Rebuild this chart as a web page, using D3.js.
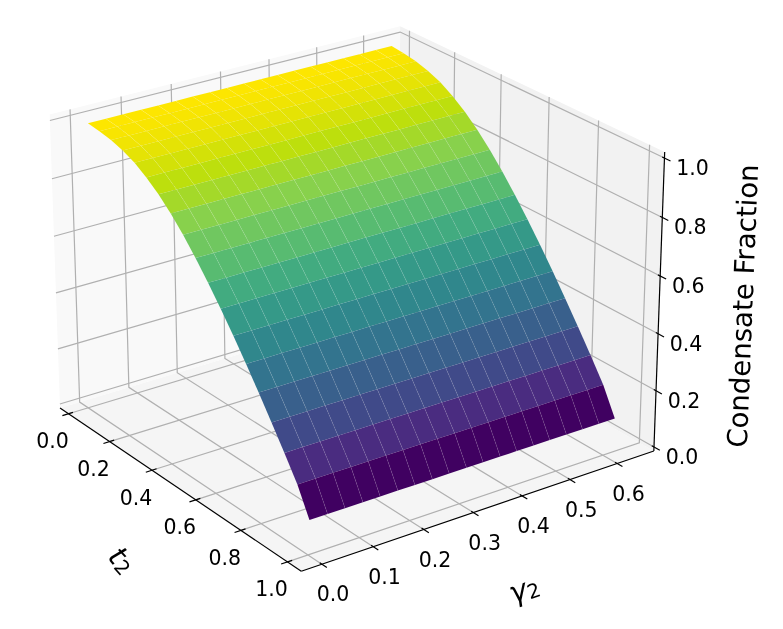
<!DOCTYPE html>
<html>
<head>
<meta charset="utf-8">
<script src="https://cdn.jsdelivr.net/npm/d3@7"></script>
<style>
  body { margin: 0; background: white; }
  svg { display: block; filter: blur(0.35px); }
  text { font-family: "DejaVu Sans", sans-serif; fill: black; }
</style>
</head>
<body>
<script>
// Values
const tValues = [0.03, 0.084, 0.138, 0.192, 0.246, 0.299, 0.353, 0.407, 0.461, 0.515, 0.569, 0.623, 0.677, 0.731, 0.784, 0.838, 0.892, 0.946, 0.996];
const gammaValues = [0.005, 0.04, 0.074, 0.109, 0.143, 0.178, 0.212, 0.247, 0.281, 0.316, 0.35, 0.385, 0.419, 0.454, 0.488, 0.523, 0.557, 0.592, 0.626];
const condensateFraction = [1.0, 0.995, 0.987, 0.974, 0.955, 0.928, 0.894, 0.853, 0.805, 0.751, 0.692, 0.63, 0.564, 0.495, 0.424, 0.35, 0.274, 0.195, 0.1];
const tTicks = [0.0, 0.2, 0.4, 0.6, 0.8, 1.0];
const gammaTicks = [0.0, 0.1, 0.2, 0.3, 0.4, 0.5, 0.6];
const zTicks = [0.0, 0.2, 0.4, 0.6, 0.8, 1.0];
const tLimits = [-0.042, 1.058];
const gammaLimits = [-0.0395, 0.679];
const zLimits = [-0.0145, 1.0205];

const w = 783;
const h = 629;
const gridColor = "#b0b0b0";

// Same camera as a matplotlib 3d axes
const elev = 24.14 * Math.PI / 180;
const azim = -35.73 * Math.PI / 180;
const dist = 10;
const eye = [Math.cos(elev) * Math.cos(azim), Math.cos(elev) * Math.sin(azim), Math.sin(elev)];
const right = [-Math.sin(azim), Math.cos(azim), 0];
const up = [-Math.sin(elev) * Math.cos(azim), -Math.sin(elev) * Math.sin(azim), Math.cos(elev)];
const dot = (a, b) => a[0] * b[0] + a[1] * b[1] + a[2] * b[2];

const tScale = d3.scaleLinear().domain(tLimits).range([-0.5715, 0.5715]);
const gammaScale = d3.scaleLinear().domain(gammaLimits).range([-0.5715, 0.5715]);
const zScale = d3.scaleLinear().domain(zLimits).range([-0.4285, 0.4285]);
const screenX = d3.scaleLinear().domain([0, 1]).range([353.46, 353.46 + 3787]);
const screenY = d3.scaleLinear().domain([0, 1]).range([283.72, 283.72 - 3787]);

function project(t, gamma, z) {
  const p = [tScale(t), gammaScale(gamma), zScale(z)];
  const f = 1 / (dist - dot(p, eye));
  return [screenX(dot(p, right) * f), screenY(dot(p, up) * f)];
}
function depth(t, gamma, z) {
  return dot([tScale(t), gammaScale(gamma), zScale(z)], eye);
}

const [t0, t1] = tLimits;
const [g0, g1] = gammaLimits;
const [z0, z1] = zLimits;

const svg = d3.select("body").append("svg").attr("width", w).attr("height", h);
const line = d3.line();

// Panes
const panes = [
  { fill: "#f5f5f5", pts: [[t0, g0, z0], [t1, g0, z0], [t1, g1, z0], [t0, g1, z0]] },
  { fill: "#f9f9f9", pts: [[t0, g0, z0], [t0, g1, z0], [t0, g1, z1], [t0, g0, z1]] },
  { fill: "#f2f2f2", pts: [[t0, g1, z0], [t1, g1, z0], [t1, g1, z1], [t0, g1, z1]] }
];
svg.selectAll(".pane")
  .data(panes)
  .enter()
  .append("path")
  .attr("class", "pane")
  .attr("fill", d => d.fill)
  .attr("d", d => line(d.pts.map(p => project(...p))) + "Z");

// Grid lines, each one runs over two panes
const gridLines = [];
tTicks.forEach(t => gridLines.push([[t, g0, z0], [t, g1, z0], [t, g1, z1]]));
gammaTicks.forEach(g => gridLines.push([[t1, g, z0], [t0, g, z0], [t0, g, z1]]));
zTicks.forEach(z => gridLines.push([[t1, g1, z], [t0, g1, z], [t0, g0, z]]));
svg.selectAll(".grid")
  .data(gridLines)
  .enter()
  .append("path")
  .attr("class", "grid")
  .attr("fill", "none")
  .attr("stroke", gridColor)
  .attr("stroke-width", 1.2)
  .attr("d", d => line(d.map(p => project(...p))));

// Axis lines and ticks
const axisLines = [
  [[t0, g0, z0], [t1, g0, z0]],
  [[t1, g0, z0], [t1, g1, z0]],
  [[t1, g1, z0], [t1, g1, z1]]
];
const gammaSpan = g1 - g0;
const tSpan = t1 - t0;
tTicks.forEach(t => axisLines.push([[t, g0 - 0.017 * gammaSpan, z0], [t, g0 + 0.0125 * gammaSpan, z0]]));
gammaTicks.forEach(g => axisLines.push([[t1 + 0.019 * tSpan, g, z0], [t1 - 0.008 * tSpan, g, z0]]));
zTicks.forEach(z => axisLines.push([[t1 + 0.021 * tSpan, g1, z], [t1 - 0.008 * tSpan, g1, z]]));
svg.selectAll(".axis-line")
  .data(axisLines)
  .enter()
  .append("path")
  .attr("class", "axis-line")
  .attr("fill", "none")
  .attr("stroke", "black")
  .attr("stroke-width", 1.2)
  .attr("d", d => line(d.map(p => project(...p))));

// Surface, facets coloured by their mean height and painted back to front
const zMin = d3.min(condensateFraction);
const zMax = d3.max(condensateFraction);
const norm = d3.scaleLinear().domain([zMin, zMax]).range([0, 1]);
// viridis as it looks in this picture: a bit duller in the middle, purer at the yellow end
const colorScale = d3.scaleLinear()
  .domain([0, 0.05, 0.15, 0.25, 0.4, 0.5, 0.6, 0.7, 0.8, 0.9, 1])
  .range(["#3c0058", "#400060", "#4a2c80", "#3e4f8a", "#33748e", "#2f8c8c", "#3aa585", "#5bbd6f", "#82cf53", "#bcdf0d", "#ffe600"]);
const cells = [];
for (let i = 0; i < tValues.length - 1; i++) {
  for (let j = 0; j < gammaValues.length - 1; j++) {
    const za = condensateFraction[i];
    const zb = condensateFraction[i + 1];
    cells.push({
      pts: [
        [tValues[i], gammaValues[j], za],
        [tValues[i + 1], gammaValues[j], zb],
        [tValues[i + 1], gammaValues[j + 1], zb],
        [tValues[i], gammaValues[j + 1], za]
      ],
      z: (za + zb) / 2,
      depth: depth((tValues[i] + tValues[i + 1]) / 2, (gammaValues[j] + gammaValues[j + 1]) / 2, (za + zb) / 2)
    });
  }
}
svg.selectAll(".cell")
  .data(cells.sort((a, b) => a.depth - b.depth))
  .enter()
  .append("path")
  .attr("class", "cell")
  .attr("fill", d => colorScale(norm(d.z)))
  .attr("d", d => line(d.pts.map(p => project(...p))) + "Z");

// The pale seams between facets
const seams = gammaValues.slice(1, -1).map(g => tValues.map((t, i) => project(t, g, condensateFraction[i])));
svg.selectAll(".seam")
  .data(seams)
  .enter()
  .append("path")
  .attr("class", "seam")
  .attr("fill", "none")
  .attr("stroke", "white")
  .attr("stroke-opacity", 0.15)
  .attr("stroke-width", 0.6)
  .attr("d", line);

// Tick labels, placed from the axis tick with a fixed offset
const fmt = d3.format(".1f");
const tickLabels = [];
tTicks.forEach(t => {
  const p = project(t, g0, z0);
  tickLabels.push({ x: p[0] - 16, y: p[1] + 27.3, text: fmt(t) });
});
gammaTicks.forEach(g => {
  const p = project(t1, g, z0);
  tickLabels.push({ x: p[0] + 11.3, y: p[1] + 30.2, text: fmt(g) });
});
zTicks.forEach(z => {
  const p = project(t1, g1, z);
  tickLabels.push({ x: p[0] + 28, y: p[1] + 10, text: fmt(z) });
});
svg.selectAll(".tick-label")
  .data(tickLabels)
  .enter()
  .append("text")
  .attr("class", "tick-label")
  .attr("x", d => d.x)
  .attr("y", d => d.y)
  .attr("text-anchor", "middle")
  .attr("dominant-baseline", "central")
  .attr("font-size", "20.5px")
  .text(d => d.text);

// Axis labels
const tLabel = svg.append("text")
  .attr("transform", "translate(122,560) rotate(48)")
  .attr("text-anchor", "middle")
  .attr("dominant-baseline", "central")
  .attr("font-size", "29px")
  .attr("font-style", "italic")
  .text("t");
tLabel.append("tspan").attr("font-size", "20px").attr("font-style", "normal").attr("dy", "5").text("2");

const gammaLabel = svg.append("text")
  .attr("transform", "translate(524,589) rotate(-19)")
  .attr("text-anchor", "middle")
  .attr("dominant-baseline", "central")
  .attr("font-size", "29px")
  .attr("font-style", "italic")
  .text("γ");
gammaLabel.append("tspan").attr("font-size", "20px").attr("font-style", "normal").attr("dy", "5").text("2");

svg.append("text")
  .attr("transform", "translate(743,306) rotate(-87.7)")
  .attr("text-anchor", "middle")
  .attr("dominant-baseline", "central")
  .attr("font-size", "27.6px")
  .text("Condensate Fraction");
</script>
</body>
</html>
